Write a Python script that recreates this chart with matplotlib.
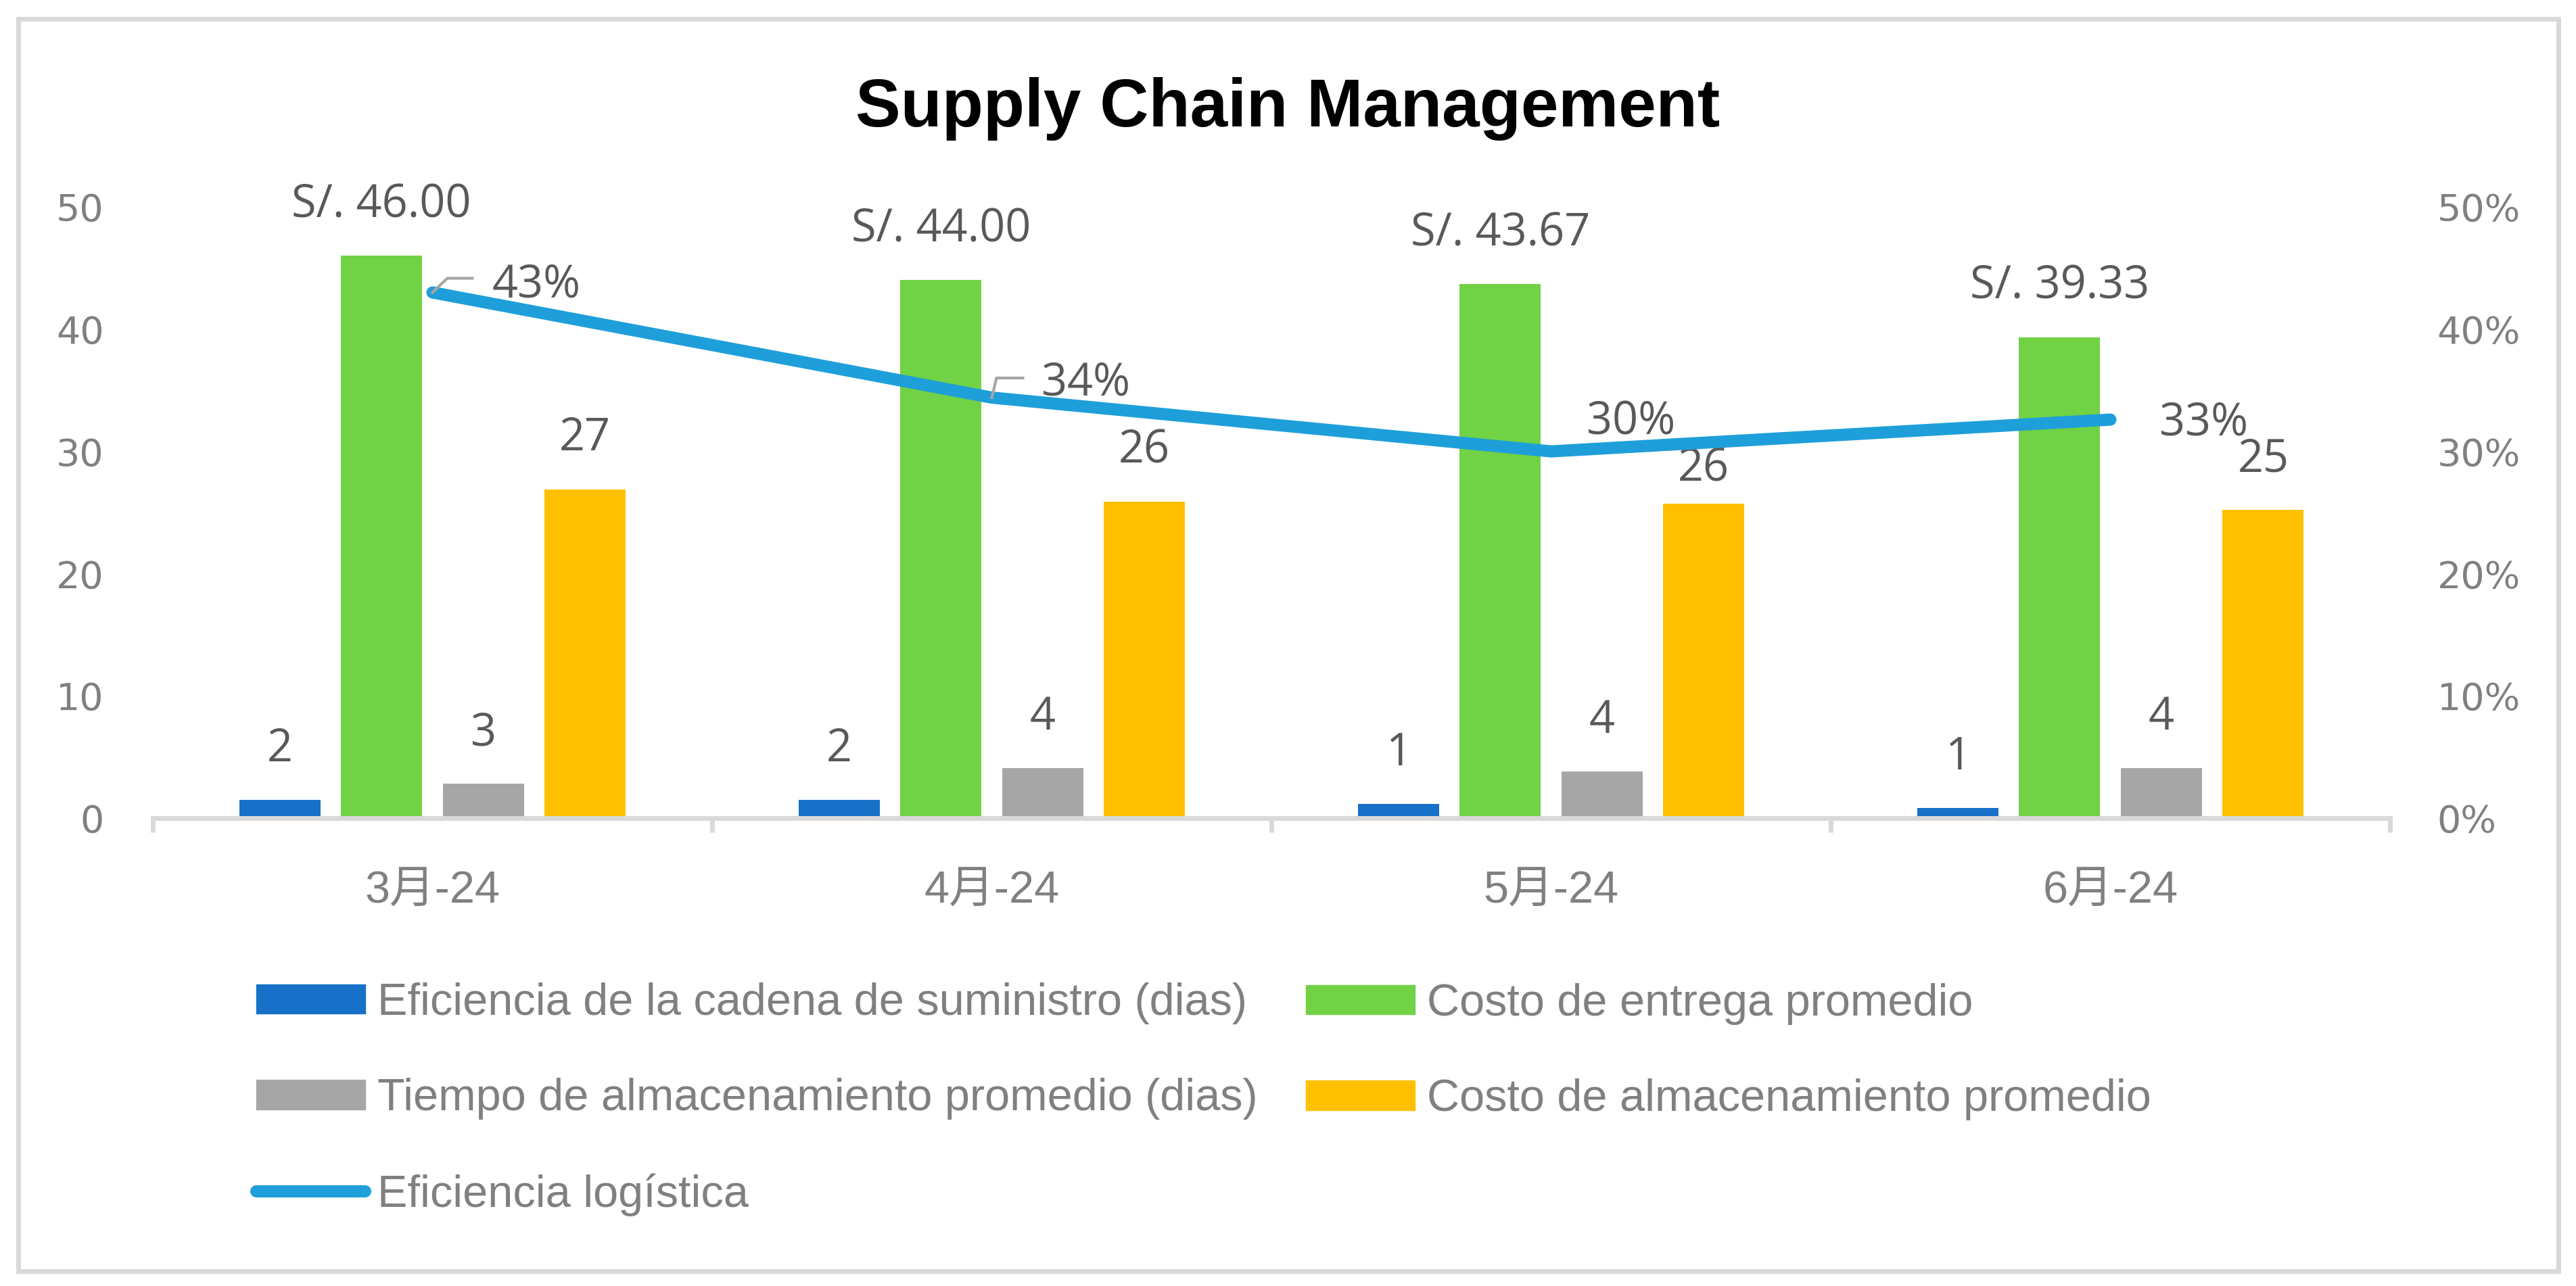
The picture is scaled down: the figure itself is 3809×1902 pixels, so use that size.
import numpy as np
import matplotlib
matplotlib.use('Agg')
import matplotlib.pyplot as plt
from matplotlib.patches import Patch, Rectangle
from matplotlib.lines import Line2D
from matplotlib.ticker import PercentFormatter

plt.rcParams['font.family'] = ['DejaVu Sans', 'Noto Sans CJK SC']

months = ['3月-24', '4月-24', '5月-24', '6月-24']
eficiencia_cadena = [1.5, 1.5, 1.17, 0.83]
costo_entrega = [46.00, 44.00, 43.67, 39.33]
tiempo_almacen = [2.8, 4.08, 3.8, 4.08]
costo_almacen = [26.9, 25.9, 25.7, 25.2]
eficiencia_log = [0.43, 0.344, 0.30, 0.326]

names = ['Eficiencia de la cadena de suministro (dias)',
         'Costo de entrega promedio',
         'Tiempo de almacenamiento promedio (dias)',
         'Costo de almacenamiento promedio',
         'Eficiencia logística']
colors = ['#1771C8', '#70D244', '#A6A6A6', '#FFC000']
line_color = '#1E9FDA'
label_color = '#595959'
tick_color = '#808080'
grid_color = '#D9D9D9'

W, H = 3809, 1902
fig = plt.figure(figsize=(W / 100, H / 100), dpi=100)

# outer frame
fig.add_artist(Rectangle((27 / W, 1 - 1880 / H), (3783 - 27) / W, (1880 - 28) / H,
                         transform=fig.transFigure, fill=False,
                         edgecolor=grid_color, lw=5))

fig.text(0.5, 1 - 187 / H, 'Supply Chain Management', ha='center', va='baseline',
         fontsize=72, fontweight='bold', family='Liberation Sans', color='black')

ax = fig.add_axes([226 / W, 1 - 1210 / H, (3534 - 226) / W, (1210 - 306) / H])
x = np.arange(len(months))
step = 0.182
width = 0.145
series = [eficiencia_cadena, costo_entrega, tiempo_almacen, costo_almacen]
lab_font = ['Open Sans', 'DejaVu Sans']
for i, vals in enumerate(series):
    pos = x + (i - 1.5) * step
    ax.bar(pos, vals, width=width, color=colors[i], zorder=2)
    for j, (p, v) in enumerate(zip(pos, vals)):
        txt = f'S/. {v:.2f}' if i == 1 else f'{v:.0f}'
        dy = 37 if (i == 3 and j == 2) else 54  # Excel nudged this one down
        ax.annotate(txt, (p, v), xytext=(0, dy), textcoords='offset points',
                    ha='center', va='center', fontsize=48, color=label_color,
                    family=lab_font)

ax.set_xlim(-0.5, 3.5)
ax.set_ylim(0, 50)
ax.set_yticks(range(0, 51, 10))
for s in ['left', 'right', 'top']:
    ax.spines[s].set_visible(False)
ax.spines['bottom'].set_color(grid_color)
ax.spines['bottom'].set_linewidth(5)
ax.set_xticks(x)
ax.set_xticklabels(months)
ax.set_xticks(np.arange(-0.5, 4, 1), minor=True)
ax.tick_params(axis='x', which='major', length=0, pad=56, labelsize=48, labelcolor=tick_color)
ax.tick_params(axis='x', which='minor', length=15, width=5, color=grid_color, direction='out')
for lbl in ax.get_xticklabels():
    lbl.set_fontfamily(['Liberation Sans', 'Noto Sans CJK SC'])
ax.tick_params(axis='y', length=0, pad=52, labelsize=40, labelcolor=tick_color)

ax2 = ax.twinx()
ax2.set_ylim(0, 0.5)
ax2.set_yticks(np.arange(0, 0.51, 0.1))
ax2.yaxis.set_major_formatter(PercentFormatter(1.0, decimals=0))
ax2.tick_params(axis='y', length=0, pad=50, labelsize=40, labelcolor=tick_color)
for s in ax2.spines.values():
    s.set_visible(False)
ax2.plot(x, eficiencia_log, color=line_color, lw=13, solid_capstyle='round',
         solid_joinstyle='miter', zorder=3)

# line labels (offsets in pixels) and leader lines
lab_off = [(88, 11), (73, 21), (52, 43), (72, -5)]
leaders = [[(0, 0), (22, 21), (59, 21)], [(0, 0), (7, 29), (46, 29)], None, None]
to_fig = fig.transFigure.inverted()
for i, v in enumerate(eficiencia_log):
    ax2.annotate(f'{v * 100:.0f}%', (x[i], v), xytext=lab_off[i], textcoords='offset pixels',
                 ha='left', va='center', fontsize=48, color=label_color, zorder=5,
                 family=lab_font)
    if leaders[i]:
        px, py = ax2.transData.transform((x[i], v))
        pts = [to_fig.transform((px + dx, py + dy)) for dx, dy in leaders[i]]
        fig.add_artist(Line2D([p[0] for p in pts], [p[1] for p in pts],
                              transform=fig.transFigure, color='#A6A6A6', lw=3, zorder=6))

handles = [Patch(color=c) for c in colors]
line_h = Line2D([], [], color=line_color, lw=13, solid_capstyle='round')
leg_kw = dict(frameon=False, loc='center left', handlelength=2.41,
              handleheight=0.63, handletextpad=0.28, labelspacing=1.19,
              borderpad=0, borderaxespad=0, labelcolor=tick_color,
              prop={'family': 'Liberation Sans', 'size': 48})
fig.legend([handles[0], handles[2], line_h], [names[0], names[2], names[4]],
           bbox_to_anchor=(379 / W, 1 - 1626 / H), **leg_kw)
fig.legend([handles[1], handles[3]], [names[1], names[3]],
           bbox_to_anchor=(1931 / W, 1 - 1555.5 / H), **leg_kw)

fig.savefig('out.png', dpi=100)
